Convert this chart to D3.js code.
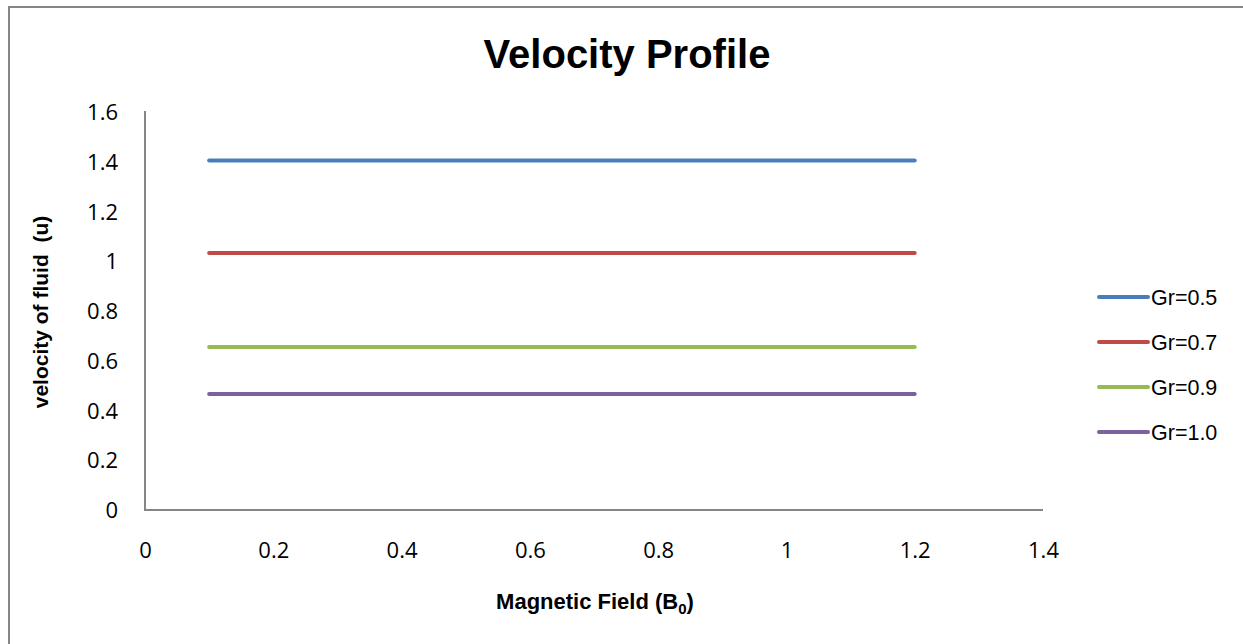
<!DOCTYPE html>
<html><head><meta charset="utf-8">
<script src="https://cdn.jsdelivr.net/npm/d3@7"></script>
<style>body{margin:0;background:#fff}svg{display:block}</style>
</head><body>
<svg id="c" width="1243" height="644"></svg>
<script>
const xValues = [0.1, 0.2, 0.3, 0.4, 0.5, 0.6, 0.7, 0.8, 0.9, 1.0, 1.1, 1.2];
const seriesNames = ["Gr=0.5", "Gr=0.7", "Gr=0.9", "Gr=1.0"];
const gr05 = [1.405, 1.405, 1.405, 1.405, 1.405, 1.405, 1.405, 1.405, 1.405, 1.405, 1.405, 1.405];
const gr07 = [1.033, 1.033, 1.033, 1.033, 1.033, 1.033, 1.033, 1.033, 1.033, 1.033, 1.033, 1.033];
const gr09 = [0.655, 0.655, 0.655, 0.655, 0.655, 0.655, 0.655, 0.655, 0.655, 0.655, 0.655, 0.655];
const gr10 = [0.466, 0.466, 0.466, 0.466, 0.466, 0.466, 0.466, 0.466, 0.466, 0.466, 0.466, 0.466];
const xTicks = [0, 0.2, 0.4, 0.6, 0.8, 1, 1.2, 1.4];
const yTicks = [0, 0.2, 0.4, 0.6, 0.8, 1, 1.2, 1.4, 1.6];
const colors = ["#4A7EBB", "#BE4B48", "#98B954", "#7D60A0"];

const seriesValues = [gr05, gr07, gr09, gr10];
const font = "'Liberation Sans Narrow','Arial Narrow','Liberation Sans',Arial,sans-serif";
const svg = d3.select("#c");

svg.append("path").attr("d","M9,644 V7 H1243").attr("fill","none").attr("stroke","#868686").attr("stroke-width",2);

const x = d3.scaleLinear().domain([0,1.4]).range([145,1043]);
const y = d3.scaleLinear().domain([0,1.6]).range([510,112]);

svg.append("text").attr("x",627).attr("y",68).attr("text-anchor","middle")
  .attr("font-family",font).attr("font-weight","bold").attr("font-size",40).text("Velocity Profile");

const xa = svg.append("g").attr("transform","translate(0,510)")
  .call(d3.axisBottom(x).tickValues(xTicks).tickSize(0).tickPadding(32).tickFormat(d3.format("~g")));
xa.select(".domain").attr("stroke","#868686").attr("stroke-width",2).attr("d","M144,0H1043");
xa.selectAll("text").attr("font-family","'Open Sans',sans-serif").attr("font-size",22).attr("fill","#000");

const ya = svg.append("g").attr("transform","translate(145,0)")
  .call(d3.axisLeft(y).tickValues(yTicks).tickSize(0).tickPadding(27).tickFormat(d3.format("~g")));
ya.select(".domain").attr("stroke","#868686").attr("stroke-width",2).attr("d","M0,111V511");
ya.selectAll("text").attr("font-family","'Open Sans',sans-serif").attr("font-size",22).attr("fill","#000").attr("dy","0.35em");

const line = d3.line().x((d,i)=>x(xValues[i])).y(d=>y(d));
seriesValues.forEach((s,k)=>{
  svg.append("path").datum(s).attr("d",line).attr("fill","none")
    .attr("stroke",colors[k]).attr("stroke-width",4).attr("stroke-linecap","round");
});

svg.append("text").attr("transform","translate(48,312) rotate(-90)").attr("text-anchor","middle")
  .style("white-space","pre")
  .attr("font-family",font).attr("font-weight","bold").attr("font-size",21).text("velocity of fluid  (u)");

const xt = svg.append("text").attr("x",595).attr("y",609).attr("text-anchor","middle")
  .attr("font-family",font).attr("font-weight","bold").attr("font-size",22);
xt.append("tspan").text("Magnetic Field (B");
xt.append("tspan").attr("font-size",15).attr("dy",5).text("0");
xt.append("tspan").attr("dy",-5).text(")");

const lg = svg.append("g");
const ly = d3.scalePoint().domain(seriesNames).range([297,432]);
seriesNames.forEach((n,k)=>{
  lg.append("line").attr("x1",1099).attr("x2",1148).attr("y1",ly(n)).attr("y2",ly(n))
    .attr("stroke",colors[k]).attr("stroke-width",4).attr("stroke-linecap","round");
  lg.append("text").attr("x",1151).attr("y",ly(n)).attr("dy","0.36em")
    .attr("font-family",font).attr("font-size",21.5).text(n);
});
</script>
</body></html>
